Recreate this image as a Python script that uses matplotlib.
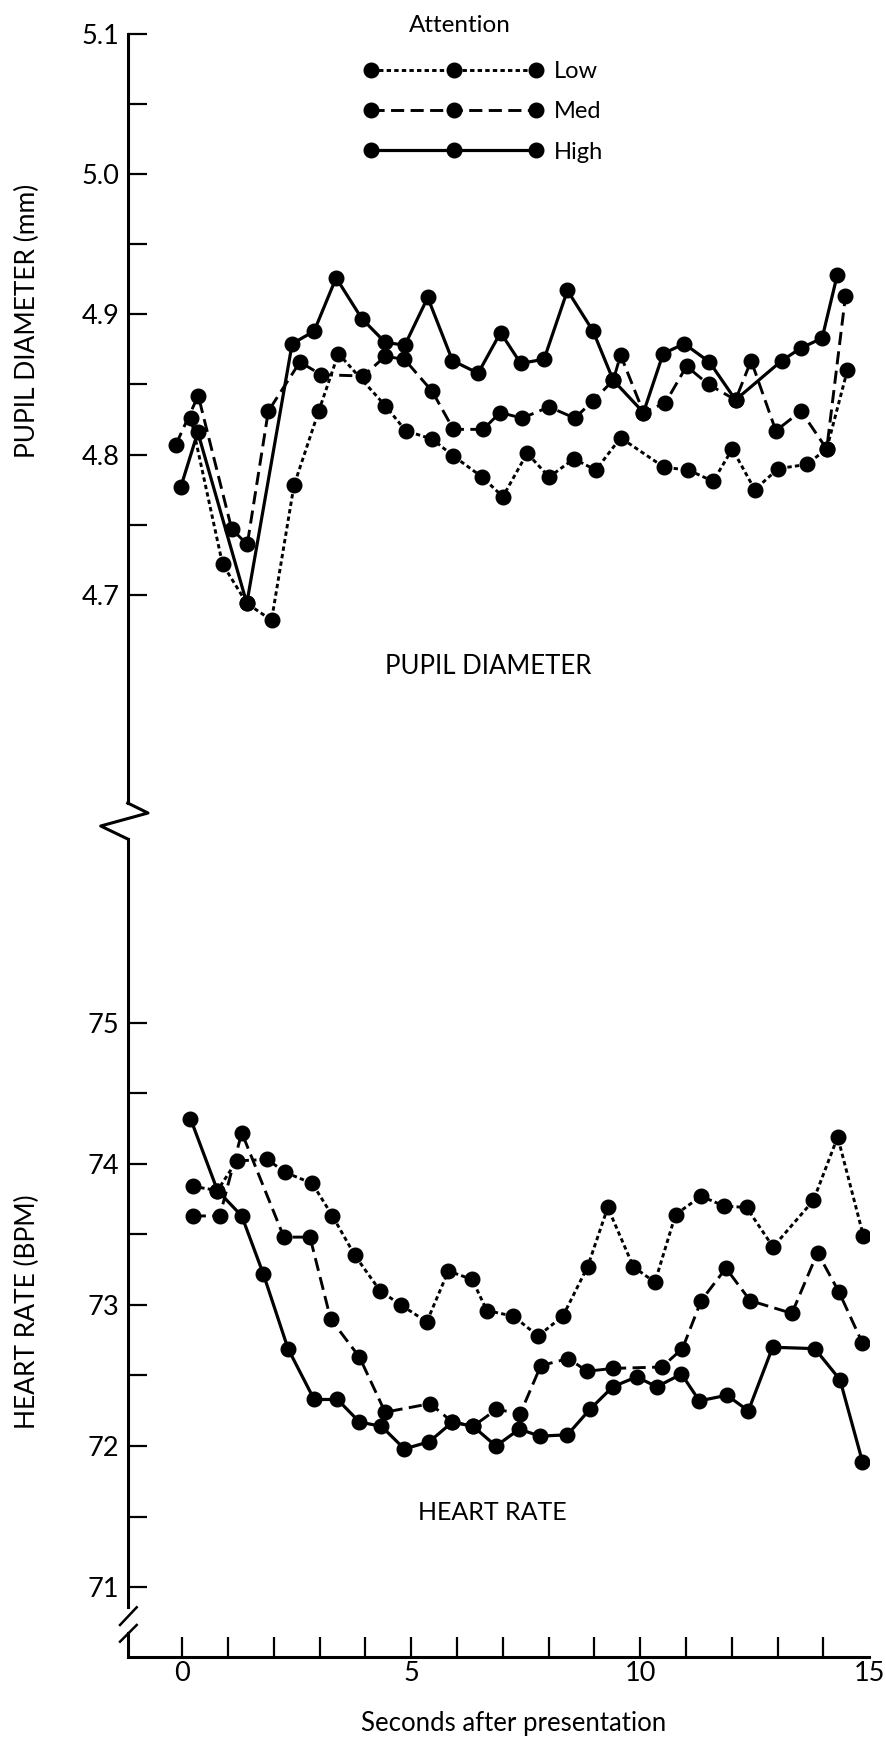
import numpy as np
import matplotlib.pyplot as plt
from matplotlib.lines import Line2D

plt.rcParams['font.family'] = ['Lato', 'DejaVu Sans']

# pupil diameter (mm)
t_pupil_low = [0.19, 0.88, 1.41, 1.95, 2.44, 2.98, 3.41, 4.43, 4.88, 5.46, 5.92, 6.55, 7.00, 7.53,
               8.01, 8.55, 9.03, 9.57, 10.52, 11.05, 11.59, 12.01, 12.50, 13.01, 13.63, 14.07, 14.52]
pupil_low = [4.826, 4.722, 4.694, 4.682, 4.778, 4.831, 4.872, 4.835, 4.817, 4.811, 4.799, 4.784, 4.770, 4.801,
             4.784, 4.797, 4.789, 4.812, 4.791, 4.789, 4.781, 4.804, 4.775, 4.790, 4.793, 4.804, 4.860]

t_pupil_med = [-0.14, 0.35, 1.08, 1.42, 1.88, 2.57, 3.03, 3.95, 4.43, 4.85, 5.46, 5.92, 6.57, 6.94, 7.42,
               8.01, 8.57, 8.96, 9.41, 9.57, 10.07, 10.55, 11.01, 11.49, 12.08, 12.42, 12.96, 13.51, 14.07, 14.48]
pupil_med = [4.807, 4.842, 4.747, 4.736, 4.831, 4.866, 4.857, 4.856, 4.870, 4.868, 4.845, 4.818, 4.818, 4.830, 4.826,
             4.834, 4.826, 4.838, 4.853, 4.871, 4.830, 4.837, 4.863, 4.850, 4.839, 4.867, 4.817, 4.831, 4.804, 4.913]

t_pupil_high = [-0.03, 0.34, 1.41, 2.40, 2.88, 3.36, 3.92, 4.43, 4.86, 5.36, 5.90, 6.46, 6.95, 7.39,
                7.90, 8.41, 8.97, 9.41, 10.07, 10.50, 10.96, 11.51, 12.08, 13.09, 13.51, 13.97, 14.30]
pupil_high = [4.777, 4.816, 4.694, 4.879, 4.888, 4.926, 4.897, 4.880, 4.878, 4.912, 4.867, 4.858, 4.887, 4.865,
              4.868, 4.917, 4.888, 4.853, 4.830, 4.872, 4.879, 4.866, 4.839, 4.867, 4.876, 4.883, 4.928]

# heart rate (BPM)
t_hr_low = [0.23, 0.77, 1.19, 1.86, 2.24, 2.84, 3.28, 3.77, 4.32, 4.77, 5.34, 5.81, 6.33, 6.65, 7.23,
            7.77, 8.31, 8.85, 9.29, 9.85, 10.32, 10.77, 11.33, 11.83, 12.32, 12.90, 13.78, 14.31, 14.87]
hr_low = [73.84, 73.81, 74.02, 74.03, 73.94, 73.86, 73.63, 73.35, 73.10, 73.00, 72.88, 73.24, 73.18, 72.96, 72.92,
          72.78, 72.92, 73.27, 73.69, 73.27, 73.16, 73.64, 73.77, 73.70, 73.69, 73.41, 73.74, 74.19, 73.49]

t_hr_med = [0.23, 0.82, 1.30, 2.22, 2.79, 3.24, 3.87, 4.43, 5.41, 5.90, 6.35, 6.86, 7.38,
            7.83, 8.43, 8.84, 9.40, 10.47, 10.92, 11.33, 11.87, 12.40, 13.31, 13.87, 14.34, 14.85]
hr_med = [73.63, 73.63, 74.22, 73.48, 73.48, 72.90, 72.63, 72.24, 72.30, 72.17, 72.14, 72.26, 72.23,
          72.57, 72.62, 72.53, 72.55, 72.56, 72.69, 73.03, 73.26, 73.03, 72.94, 73.37, 73.09, 72.73]

t_hr_high = [0.18, 0.77, 1.30, 1.77, 2.31, 2.88, 3.39, 3.87, 4.35, 4.85, 5.39, 5.90, 6.35, 6.85, 7.36,
             7.81, 8.41, 8.90, 9.40, 9.92, 10.36, 10.90, 11.29, 11.89, 12.36, 12.89, 13.81, 14.36, 14.85]
hr_high = [74.32, 73.81, 73.63, 73.22, 72.69, 72.33, 72.33, 72.17, 72.14, 71.98, 72.03, 72.17, 72.14, 72.00, 72.12,
           72.07, 72.08, 72.26, 72.42, 72.49, 72.42, 72.51, 72.32, 72.36, 72.25, 72.70, 72.69, 72.47, 71.89]

levels = ["Low", "Med", "High"]
pupil_yticks = [4.7, 4.8, 4.9, 5.0, 5.1]
hr_yticks = [71, 72, 73, 74, 75]

W, H = 887, 1741


def px_box(x0, y0, x1, y1):
    # pixel box (top-left origin) -> figure fraction rect
    return [x0 / W, 1 - y1 / H, (x1 - x0) / W, (y1 - y0) / H]


def fig_line(xs, ys, lw=2.2):
    fig.add_artist(Line2D(np.array(xs) / W, 1 - np.array(ys) / H,
                          transform=fig.transFigure, color="black", lw=lw))


fig = plt.figure(figsize=(W / 100, H / 100), dpi=100)
ax_top = fig.add_axes(px_box(127.7, 33.7, 869.3, 803))
ax_bot = fig.add_axes(px_box(127.7, 839, 869.3, 1656.7))

styles = [dict(ls=(0, (1.5, 1.1)), lw=2.1),
          dict(ls=(0, (4.5, 2.2)), lw=2.1),
          dict(ls="-", lw=2.3)]
mk = dict(marker="o", ms=10.5, mec="black", mfc="black", color="black")

handles = []
for t, v, st in zip([t_pupil_low, t_pupil_med, t_pupil_high],
                    [pupil_low, pupil_med, pupil_high], styles):
    h, = ax_top.plot(t, v, **st, **mk)
    handles.append(h)
for t, v, st in zip([t_hr_low, t_hr_med, t_hr_high],
                    [hr_low, hr_med, hr_high], styles):
    ax_bot.plot(t, v, **st, **mk)

for ax in (ax_top, ax_bot):
    ax.set_xlim(-1.19, 15)
    ax.spines["top"].set_visible(False)
    ax.spines["right"].set_visible(False)
    ax.spines["left"].set_linewidth(2.2)
    ax.spines["bottom"].set_linewidth(2.2)
    ax.tick_params(axis="y", which="both", direction="in", length=13.7, width=1.6,
                   pad=6, labelsize=19.5)

# top panel
ax_top.set_ylim(4.5517, 5.1)
ax_top.spines["bottom"].set_visible(False)
ax_top.tick_params(axis="x", bottom=False, labelbottom=False)
ax_top.set_yticks(pupil_yticks)
ax_top.set_yticklabels(["%.1f" % v for v in pupil_yticks])
ax_top.set_yticks([4.75, 4.85, 4.95, 5.05], minor=True)

# bottom panel
ax_bot.set_ylim(70.508, 76.30)
ax_bot.spines["left"].set_bounds(70.86, 76.30)
ax_bot.set_yticks(hr_yticks)
ax_bot.set_yticklabels([str(v) for v in hr_yticks])
ax_bot.set_yticks([71.5, 72.5, 73.5, 74.5], minor=True)
ax_bot.set_xticks(range(16))
ax_bot.set_xticklabels([str(i) if i % 5 == 0 else "" for i in range(16)])
ax_bot.tick_params(axis="x", direction="in", length=14.4, width=1.6, pad=3, labelsize=19.5)
ax_bot.xaxis.get_major_ticks()[-1].tick1line.set_visible(False)

# axis breaks
fig_line([127.7, 148, 100.7, 127.7], [803, 813, 826, 839])
fig_line([127.7, 127.7], [1633, 1656.7])
fig_line([120, 136.7], [1625, 1607.3], lw=1.8)
fig_line([120, 136.7], [1641.7, 1625], lw=1.8)

# legend
ax_top.legend(handles, levels, loc="upper left", bbox_to_anchor=(364 / W, 1 - 61 / H),
              bbox_transform=fig.transFigure, numpoints=3, frameon=False, fontsize=17,
              handlelength=7.6, handletextpad=0.45, labelspacing=0.82, borderpad=0,
              borderaxespad=0)
fig.text(460 / W, 1 - 25 / H, "Attention", ha="center", va="center", fontsize=17.5)

# labels
fig.text(27 / W, 1 - 321 / H, "PUPIL DIAMETER (mm)", rotation=90, ha="center", va="center", fontsize=19)
fig.text(27 / W, 1 - 1312 / H, "HEART RATE (BPM)", rotation=90, ha="center", va="center", fontsize=19)
fig.text(488 / W, 1 - 666 / H, "PUPIL DIAMETER", ha="center", va="center", fontsize=18.5)
fig.text(492 / W, 1 - 1512 / H, "HEART RATE", ha="center", va="center", fontsize=18)
fig.text(514 / W, 1 - 1723 / H, "Seconds after presentation", ha="center", va="center", fontsize=18.5)

fig.savefig("out.png", dpi=100)
